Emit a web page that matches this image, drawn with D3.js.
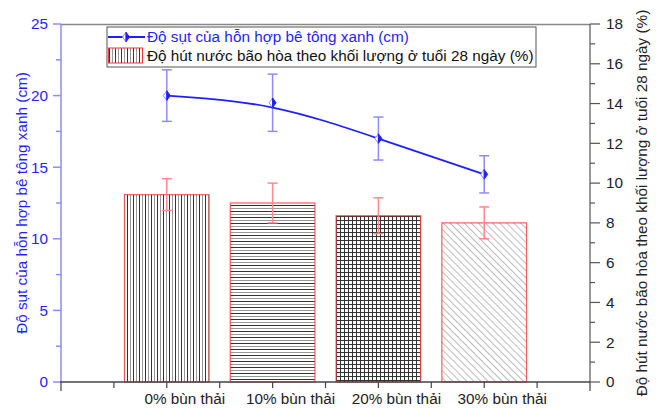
<!DOCTYPE html>
<html><head><meta charset="utf-8">
<script src="https://cdn.jsdelivr.net/npm/d3@7"></script>
<style>
body{margin:0;background:#fff;}
svg{display:block;font-family:"Liberation Sans",Arial,sans-serif;}
</style></head>
<body><svg id="c" width="656" height="408"></svg>
<script>
const categories = ["0% bùn thải","10% bùn thải","20% bùn thải","30% bùn thải"];
const slump = [20.0, 19.5, 17.0, 14.5];
const slumpErr = [1.8, 2.0, 1.5, 1.3];
const absorption = [9.42, 9.0, 8.36, 8.0];
const absorptionErr = [0.8, 1.0, 0.9, 0.8];
const leftTicks = [0,5,10,15,20,25];
const rightTicks = [0,2,4,6,8,10,12,14,16,18];
const seriesNames = ["Độ sụt của hỗn hợp bê tông xanh (cm)","Độ hút nước bão hòa theo khối lượng ở tuổi 28 ngày (%)"];
const patterns = ["vert","horiz","grid","diag"];

const svg = d3.select("#c");
const L=61,R=590,T=24,B=382;
const FS=15.3;
const x = d3.scaleLinear().domain([0,5]).range([L,R]);
const yL = d3.scaleLinear().domain([0,25]).range([B,T]);
const yR = d3.scaleLinear().domain([0,18]).range([B,T]);
const blue="#1f1fff", lblue="#8c8cff", red="#ff3333", lred="#ff8a8a";

const defs = svg.append("defs");
function pat(id,w,h,draw,transform){
  const p=defs.append("pattern").attr("id",id).attr("patternUnits","userSpaceOnUse").attr("width",w).attr("height",h);
  if(transform)p.attr("patternTransform",transform);
  p.append("rect").attr("width",w).attr("height",h).attr("fill","#fff");
  draw(p);
}
pat("vert",6,6,p=>{
  p.append("line").attr("x1",1.5).attr("x2",1.5).attr("y1",0).attr("y2",6).attr("stroke","#333").attr("stroke-width",1);
  p.append("line").attr("x1",4.5).attr("x2",4.5).attr("y1",0).attr("y2",6).attr("stroke","#999").attr("stroke-width",1);
});
pat("horiz",6,6,p=>{
  p.append("line").attr("y1",1.5).attr("y2",1.5).attr("x1",0).attr("x2",6).attr("stroke","#333").attr("stroke-width",1);
  p.append("line").attr("y1",4.5).attr("y2",4.5).attr("x1",0).attr("x2",6).attr("stroke","#999").attr("stroke-width",1);
});
pat("grid",4,4,p=>{
  p.append("line").attr("x1",0.5).attr("x2",0.5).attr("y1",0).attr("y2",4).attr("stroke","#333").attr("stroke-width",1);
  p.append("line").attr("y1",0.5).attr("y2",0.5).attr("x1",0).attr("x2",4).attr("stroke","#333").attr("stroke-width",1);
});
pat("diag",5,5,p=>{
  p.append("line").attr("x1",0).attr("x2",0).attr("y1",0).attr("y2",5).attr("stroke","#777").attr("stroke-width",1);
},"rotate(-45)");

// top frame
svg.append("line").attr("x1",L).attr("x2",R).attr("y1",T+0.5).attr("y2",T+0.5).attr("stroke","#888").attr("stroke-width",1.5);

// bars
const bw = (x(1)-x(0))*0.8;
const gB = svg.append("g");
absorption.forEach((v,i)=>{
  gB.append("rect").attr("x",x(i+1)-bw/2).attr("y",yR(v)).attr("width",bw).attr("height",B-yR(v))
    .attr("fill",`url(#${patterns[i]})`).attr("stroke",red).attr("stroke-width",1.2).attr("stroke-opacity",0.8);
});
// bar error bars
absorption.forEach((v,i)=>{
  const cx=x(i+1), y1=yR(v+absorptionErr[i]), y2=yR(v-absorptionErr[i]);
  const g=gB.append("g").attr("stroke",lred).attr("stroke-width",1.5);
  g.append("line").attr("x1",cx).attr("x2",cx).attr("y1",y1).attr("y2",y2);
  g.append("line").attr("x1",cx-5).attr("x2",cx+5).attr("y1",y1).attr("y2",y1);
  g.append("line").attr("x1",cx-5).attr("x2",cx+5).attr("y1",y2).attr("y2",y2);
});

// line error bars
slump.forEach((v,i)=>{
  const cx=x(i+1), y1=yL(v+slumpErr[i]), y2=yL(v-slumpErr[i]);
  const g=svg.append("g").attr("stroke",lblue).attr("stroke-width",1.5);
  g.append("line").attr("x1",cx).attr("x2",cx).attr("y1",y1).attr("y2",y2);
  g.append("line").attr("x1",cx-5).attr("x2",cx+5).attr("y1",y1).attr("y2",y1);
  g.append("line").attr("x1",cx-5).attr("x2",cx+5).attr("y1",y2).attr("y2",y2);
});
// line
const line=d3.line().x((d,i)=>x(i+1)).y(d=>yL(d)).curve(d3.curveBasis);
svg.append("path").datum(slump).attr("d",line).attr("fill","none").attr("stroke",blue).attr("stroke-width",1.8);

function marker(g,cx,cy){
  const w=3.5,h=4.8;
  g.append("path").attr("d",`M${cx},${cy-h}L${cx-w},${cy}L${cx},${cy+h}Z`).attr("fill","#fff").attr("stroke",lblue).attr("stroke-width",1);
  g.append("path").attr("d",`M${cx},${cy-h}L${cx+w},${cy}L${cx},${cy+h}Z`).attr("fill",blue).attr("stroke",blue).attr("stroke-width",1);
}
slump.forEach((v,i)=>marker(svg,x(i+1),yL(v)));

// axes
const axL=svg.append("g").attr("transform",`translate(${L},0)`);
axL.append("line").attr("y1",T).attr("y2",B).attr("stroke",lblue).attr("stroke-width",1.5);
d3.range(0,25.01,2.5).forEach(t=>{
  const maj = leftTicks.includes(t);
  axL.append("line").attr("x1",0).attr("x2",maj?-8:-5).attr("y1",yL(t)).attr("y2",yL(t)).attr("stroke",lblue).attr("stroke-width",1.5);
});
leftTicks.forEach(t=>{
  axL.append("text").attr("x",-13).attr("y",yL(t)).attr("dy","0.35em").attr("text-anchor","end").attr("fill",blue).attr("font-size",FS).text(t);
});
svg.append("text").attr("transform",`translate(22,${(T+B)/2}) rotate(-90)`).attr("text-anchor","middle").attr("fill",blue).attr("font-size",FS).attr("dy","0.35em").text(seriesNames[0]);

const axR=svg.append("g").attr("transform",`translate(${R},0)`);
axR.append("line").attr("y1",T).attr("y2",B).attr("stroke","#555").attr("stroke-width",1.2);
d3.range(0,18.01,1).forEach(t=>{
  const maj = t%2===0;
  axR.append("line").attr("x1",0).attr("x2",maj?10:5).attr("y1",yR(t)).attr("y2",yR(t)).attr("stroke","#555").attr("stroke-width",1.2);
});
rightTicks.forEach(t=>{
  axR.append("text").attr("x",16).attr("y",yR(t)).attr("dy","0.35em").attr("text-anchor","start").attr("fill","#222").attr("font-size",FS).text(t);
});
svg.append("text").attr("transform",`translate(642,${(T+B)/2+0}) rotate(-90)`).attr("text-anchor","middle").attr("fill","#222").attr("font-size",FS).attr("dy","0.35em").text(seriesNames[1]);

const axB=svg.append("g").attr("transform",`translate(0,${B})`);
axB.append("line").attr("x1",L-1).attr("x2",R).attr("stroke","#444").attr("stroke-width",1.5);
d3.range(0,5.01,0.5).forEach(t=>{
  axB.append("line").attr("x1",x(t)).attr("x2",x(t)).attr("y1",0).attr("y2",(t===0||t===5)?9:6).attr("stroke","#444").attr("stroke-width",1.2);
});
categories.forEach((c,i)=>{
  axB.append("text").attr("x",x(i+1)+18).attr("y",22).attr("text-anchor","middle").attr("fill","#222").attr("font-size",FS).text(c);
});

// legend
const lg=svg.append("g");
lg.append("rect").attr("x",107).attr("y",27).attr("width",429).attr("height",40).attr("fill","#fff").attr("stroke","#555").attr("stroke-width",1);
lg.append("line").attr("x1",108).attr("x2",145).attr("y1",37).attr("y2",37).attr("stroke",blue).attr("stroke-width",1.8);
marker(lg,126,37);
lg.append("text").attr("x",147).attr("y",37).attr("dy","0.35em").attr("fill",blue).attr("font-size",FS).text(seriesNames[0]);
lg.append("rect").attr("x",108.5).attr("y",48).attr("width",34).attr("height",15).attr("fill","url(#vert)").attr("stroke",red).attr("stroke-width",1);
lg.append("text").attr("x",147).attr("y",56).attr("dy","0.35em").attr("fill","#111").attr("font-size",FS).text(seriesNames[1]);
</script></body></html>
